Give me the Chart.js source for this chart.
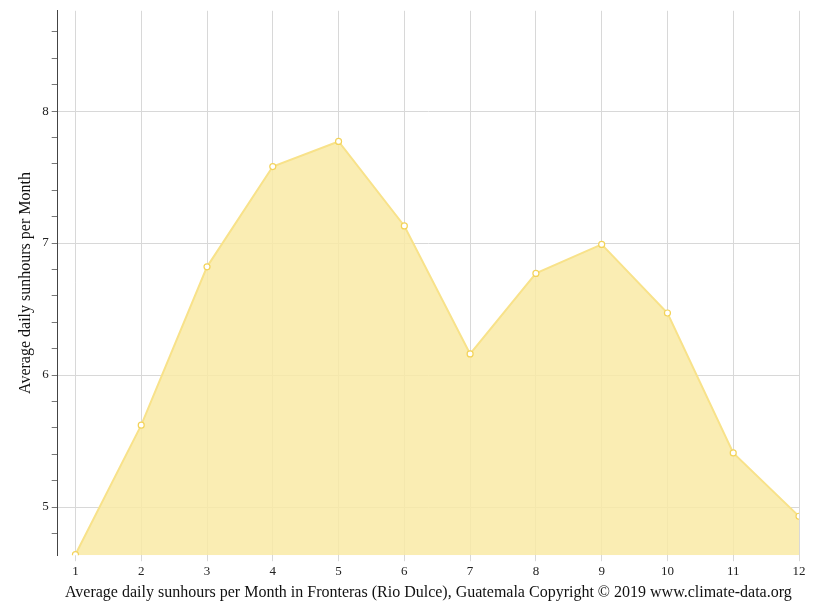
<!DOCTYPE html>
<html>
<head>
<meta charset="utf-8">
<script src="https://cdn.jsdelivr.net/npm/chart.js@4"></script>
<style>
  html, body { margin: 0; padding: 0; background: #fff; }
  #wrap { width: 815px; height: 611px; }
</style>
</head>
<body>
<div id="wrap"><canvas id="sun"></canvas></div>
<script>
// monthly average daily sunhours
const months = [1, 2, 3, 4, 5, 6, 7, 8, 9, 10, 11, 12];
const sunhours = [4.64, 5.62, 6.82, 7.58, 7.77, 7.13, 6.16, 6.77, 6.99, 6.47, 5.41, 4.93];

const ctx = document.getElementById('sun').getContext('2d');
new Chart(ctx, {
  type: 'line',
  data: {
    datasets: [{
      data: months.map((m, i) => ({ x: m, y: sunhours[i] })),
      borderColor: '#f8e28a',
      backgroundColor: 'rgba(249, 234, 166, 0.85)',
      borderWidth: 2,
      fill: 'start',
      tension: 0,
      pointRadius: 3,
      pointBackgroundColor: '#fff',
      pointBorderColor: '#f3d35a',
      pointBorderWidth: 1.2
    }]
  },
  options: {
    responsive: true,
    maintainAspectRatio: false,
    animation: false,
    layout: { padding: { top: 10, right: 16, left: 12, bottom: 5 } },
    plugins: { legend: { display: false }, tooltip: { enabled: false } },
    scales: {
      x: {
        type: 'linear',
        min: 0.73,
        max: 12,
        afterBuildTicks: axis => { axis.ticks = months.map(v => ({ value: v })); },
        ticks: { font: { family: 'Liberation Serif', size: 13 }, color: '#222', maxRotation: 0 },
        grid: { color: '#d8d8d8', tickLength: 6 },
        border: { display: false },
        title: {
          display: true,
          text: 'Average daily sunhours per Month in Fronteras (Rio Dulce), Guatemala Copyright © 2019 www.climate-data.org',
          font: { family: 'Liberation Serif', size: 16 },
          color: '#111',
          padding: { top: 0 }
        }
      },
      y: {
        min: 4.635,
        max: 8.76,
        afterBuildTicks: axis => {
          const t = [];
          for (let v = 4.8; v <= 8.7; v += 0.2) t.push({ value: Math.round(v * 10) / 10 });
          axis.ticks = t;
        },
        ticks: {
          font: { family: 'Liberation Serif', size: 13 },
          color: '#222',
          callback: v => Number.isInteger(v) ? v : ''
        },
        grid: {
          color: c => Number.isInteger(c.tick && c.tick.value) ? '#d8d8d8' : 'rgba(0,0,0,0)',
          tickColor: '#777',
          tickLength: 6
        },
        border: { color: '#444', width: 1 },
        title: {
          display: true,
          text: 'Average daily sunhours per Month',
          font: { family: 'Liberation Serif', size: 16 },
          color: '#111'
        }
      }
    }
  }
});
</script>
</body>
</html>
